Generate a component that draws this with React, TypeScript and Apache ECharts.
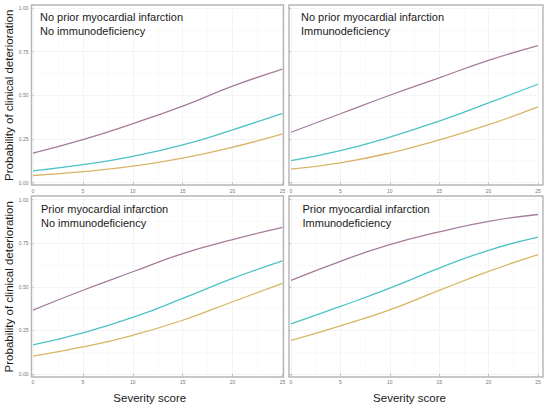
import * as echarts from "echarts"
import { useEffect, useRef } from "react"

// severity score at which the curves were read
const scores = [0, 5, 10, 15, 20, 25]

const panelTitles = [
  "No prior myocardial infarction\nNo immunodeficiency",
  "No prior myocardial infarction\nImmunodeficiency",
  "Prior myocardial infarction\nNo immunodeficiency",
  "Prior myocardial infarction\nImmunodeficiency",
]

// probability of clinical deterioration, one array per line per panel
const noMiNoImmPurple = [0.169, 0.246, 0.337, 0.438, 0.552, 0.65]
const noMiNoImmCyan = [0.067, 0.102, 0.15, 0.215, 0.302, 0.396]
const noMiNoImmGold = [0.04, 0.062, 0.094, 0.14, 0.202, 0.279]

const noMiImmPurple = [0.288, 0.394, 0.5, 0.6, 0.7, 0.785]
const noMiImmCyan = [0.125, 0.183, 0.26, 0.352, 0.456, 0.563]
const noMiImmGold = [0.077, 0.113, 0.169, 0.244, 0.331, 0.433]

const miNoImmPurple = [0.366, 0.48, 0.586, 0.69, 0.77, 0.84]
const miNoImmCyan = [0.167, 0.236, 0.324, 0.433, 0.548, 0.648]
const miNoImmGold = [0.103, 0.155, 0.222, 0.308, 0.414, 0.519]

const miImmPurple = [0.536, 0.646, 0.741, 0.814, 0.875, 0.914]
const miImmCyan = [0.287, 0.387, 0.492, 0.607, 0.709, 0.785]
const miImmGold = [0.192, 0.276, 0.368, 0.479, 0.588, 0.684]

const panelSeries = [
  [noMiNoImmPurple, noMiNoImmCyan, noMiNoImmGold],
  [noMiImmPurple, noMiImmCyan, noMiImmGold],
  [miNoImmPurple, miNoImmCyan, miNoImmGold],
  [miImmPurple, miImmCyan, miImmGold],
]
const lineNames = ["Line 1", "Line 2", "Line 3"]
const lineColors = ["#a47c9c", "#4cc2c4", "#d8b565"]

const yTicks = [0, 0.25, 0.5, 0.75, 1]

// layout: plot area of every panel and its frame
const grids = [
  { left: 33, top: 8, width: 249.5, height: 174.5 },
  { left: 291, top: 8, width: 247, height: 174.5 },
  { left: 33, top: 199.5, width: 249.5, height: 174.5 },
  { left: 291, top: 199.5, width: 247, height: 174.5 },
]
const frames = [
  { x: 31.5, y: 5, width: 252, height: 180 },
  { x: 289, y: 5, width: 254, height: 180 },
  { x: 31.5, y: 196, width: 252, height: 181 },
  { x: 289, y: 196, width: 254, height: 181 },
]
const titlePos = [
  { x: 40, y: 10 },
  { x: 301, y: 10 },
  { x: 41, y: 202 },
  { x: 302.5, y: 202 },
]
// shifts the x-axis title a little left of the panel centre
const xNamePad = [0, 0, 16, 10]

const FONT = "'Liberation Sans', Arial, sans-serif"

export default function App() {
  const chartRef = useRef<HTMLDivElement>(null)

  useEffect(() => {
    if (!chartRef.current) return
    const chart = echarts.init(chartRef.current, undefined, { renderer: "svg" })

    const xAxis = grids.map((_, i) => ({
      type: "value" as const,
      gridIndex: i,
      min: 0,
      max: 25,
      interval: 5,
      offset: 2.5,
      axisLine: { show: false },
      axisTick: { show: true, length: 2.5, lineStyle: { color: "#999", width: 0.6 } },
      axisLabel: { fontSize: 5, color: "#777", margin: 3, fontFamily: FONT },
      minorTick: { show: false, splitNumber: 2 },
      splitLine: { show: true, lineStyle: { color: "#ececec", width: 0.6 } },
      minorSplitLine: { show: true, lineStyle: { color: "#f5f5f5", width: 0.5 } },
      name: i >= 2 ? "Severity score" : "",
      nameLocation: "middle" as const,
      nameGap: 15,
      nameTextStyle: {
        fontSize: 11.5,
        color: "#1a1a1a",
        fontFamily: FONT,
        padding: [0, xNamePad[i], 0, 0],
      },
    }))

    const yAxis = grids.map((_, i) => ({
      type: "value" as const,
      gridIndex: i,
      min: 0,
      max: 1,
      interval: 0.25,
      offset: 1.5,
      axisLine: { show: false },
      axisTick: { show: true, length: 2.5, lineStyle: { color: "#999", width: 0.6 } },
      axisLabel: {
        show: i % 2 === 0,
        fontSize: 5,
        color: "#777",
        margin: 3,
        fontFamily: FONT,
        formatter: (v: number) => (yTicks.includes(v) ? v.toFixed(2) : ""),
      },
      minorTick: { show: false, splitNumber: 2 },
      splitLine: { show: true, lineStyle: { color: "#ececec", width: 0.6 } },
      minorSplitLine: { show: true, lineStyle: { color: "#f5f5f5", width: 0.5 } },
      name: i % 2 === 0 ? "Probability of clinical deterioration" : "",
      nameLocation: "middle" as const,
      nameRotate: 90,
      nameGap: 16,
      nameTextStyle: { fontSize: 11.5, color: "#1a1a1a", fontFamily: FONT },
    }))

    const series: any[] = []
    panelSeries.forEach((lines, p) => {
      lines.forEach((values, k) => {
        series.push({
          name: lineNames[k],
          type: "line",
          xAxisIndex: p,
          yAxisIndex: p,
          smooth: 0.5,
          showSymbol: false,
          data: scores.map((s, j) => [s, values[j]]),
          lineStyle: { color: lineColors[k], width: 1.3 },
          itemStyle: { color: lineColors[k] },
        })
      })
    })

    const graphic: any[] = [
      ...frames.map((f) => ({
        type: "rect",
        shape: f,
        style: { fill: "none", stroke: "#b5b5b5", lineWidth: 1.4 },
        z: 100,
      })),
      ...titlePos.map((pos, i) => ({
        type: "text",
        x: pos.x,
        y: pos.y,
        style: {
          text: panelTitles[i],
          fontSize: 11,
          lineHeight: 14,
          fontFamily: FONT,
          fill: "#1a1a1a",
          verticalAlign: "top",
        },
        z: 100,
      })),
    ]

    chart.setOption({
      animation: false,
      backgroundColor: "#ffffff",
      grid: grids,
      xAxis,
      yAxis,
      series,
      graphic,
    })

    return () => {
      chart.dispose()
    }
  }, [])

  return (
    <div
      ref={chartRef}
      style={{ position: "fixed", left: 0, top: 0, width: 550, height: 405 }}
    />
  )
}
